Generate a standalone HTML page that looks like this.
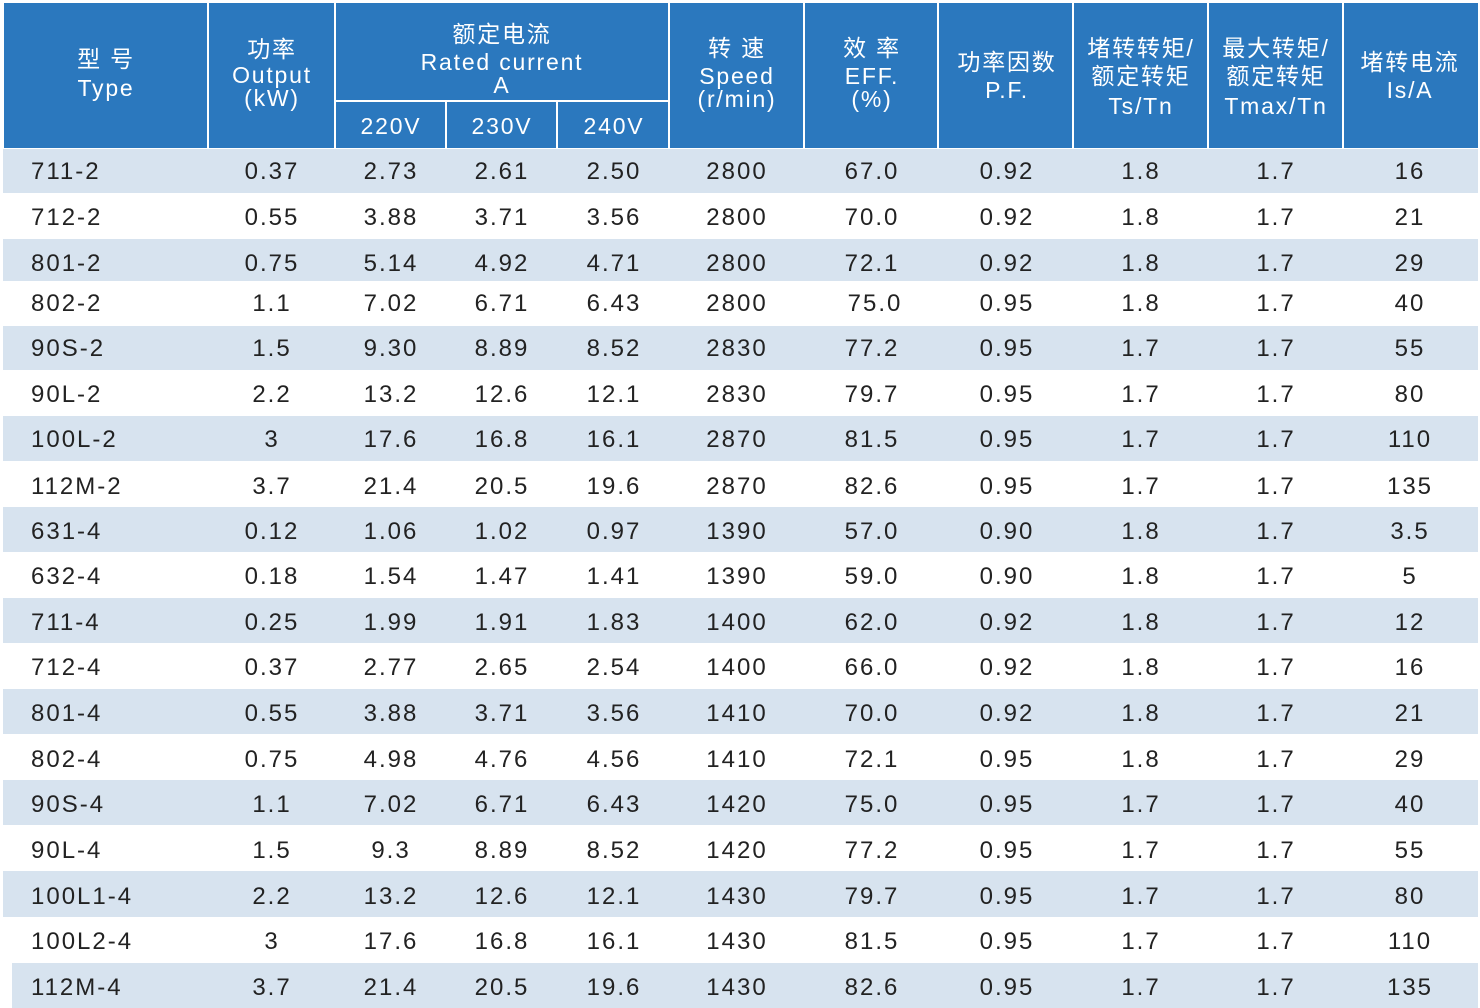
<!DOCTYPE html>
<html><head><meta charset="utf-8"><style>
html,body{margin:0;padding:0;background:#fff;}
svg{display:block}
text{font-family:"Liberation Sans","Noto Sans CJK SC",sans-serif;}
</style></head><body>
<svg width="1480" height="1008" viewBox="0 0 1480 1008" xmlns="http://www.w3.org/2000/svg">
<rect x="0" y="0" width="1480" height="1008" fill="#fff"/>
<rect x="4" y="3" width="1474" height="145" fill="#2b78be"/>
<g stroke="#fff" stroke-width="2">
<line x1="208" y1="3" x2="208" y2="148"/><line x1="335" y1="3" x2="335" y2="148"/>
<line x1="669" y1="3" x2="669" y2="148"/><line x1="804" y1="3" x2="804" y2="148"/>
<line x1="938" y1="3" x2="938" y2="148"/><line x1="1073" y1="3" x2="1073" y2="148"/>
<line x1="1208" y1="3" x2="1208" y2="148"/><line x1="1343" y1="3" x2="1343" y2="148"/>
<line x1="335" y1="101" x2="669" y2="101"/>
<line x1="446" y1="101" x2="446" y2="148"/><line x1="557" y1="101" x2="557" y2="148"/>
</g>
<g fill="#fff" font-size="23" text-anchor="middle" letter-spacing="1.8">
<text x="106" y="67">型 号</text><text x="106" y="96">Type</text>
<text x="272" y="57">功率</text><text x="272" y="83">Output</text><text x="272" y="106">(kW)</text>
<text x="502" y="42">额定电流</text><text x="502" y="70">Rated current</text><text x="502" y="93">A</text>
<text x="391" y="134">220V</text><text x="502" y="134">230V</text><text x="614" y="134">240V</text>
<text x="737" y="56">转 速</text><text x="737" y="84">Speed</text><text x="737" y="107">(r/min)</text>
<text x="872" y="56">效 率</text><text x="872" y="84">EFF.</text><text x="872" y="107">(%)</text>
<text x="1007" y="70">功率因数</text><text x="1007" y="98">P.F.</text>
<text x="1141" y="56">堵转转矩/</text><text x="1141" y="84">额定转矩</text><text x="1141" y="114">Ts/Tn</text>
<text x="1276" y="56">最大转矩/</text><text x="1276" y="84">额定转矩</text><text x="1276" y="114">Tmax/Tn</text>
<text x="1410" y="70">堵转电流</text><text x="1410" y="98">Is/A</text>
</g>
<g fill="#d7e3ef">
<rect x="3" y="149" width="1475" height="44"/>
<rect x="3" y="239" width="1475" height="42"/>
<rect x="3" y="326" width="1475" height="44"/>
<rect x="3" y="416" width="1475" height="45"/>
<rect x="3" y="507" width="1475" height="45"/>
<rect x="3" y="598" width="1475" height="45"/>
<rect x="3" y="689" width="1475" height="45"/>
<rect x="3" y="780" width="1475" height="45"/>
<rect x="3" y="871" width="1475" height="46"/>
<rect x="12" y="963" width="1466" height="45"/>
</g>
<g fill="#222" font-size="24" letter-spacing="2">
<text x="31" y="179">711-2</text><text x="31" y="225">712-2</text><text x="31" y="271">801-2</text><text x="31" y="311">802-2</text><text x="31" y="356">90S-2</text><text x="31" y="402">90L-2</text><text x="31" y="447">100L-2</text><text x="31" y="494">112M-2</text><text x="31" y="539">631-4</text><text x="31" y="584">632-4</text><text x="31" y="630">711-4</text><text x="31" y="675">712-4</text><text x="31" y="721">801-4</text><text x="31" y="767">802-4</text><text x="31" y="812">90S-4</text><text x="31" y="858">90L-4</text><text x="31" y="904">100L1-4</text><text x="31" y="949">100L2-4</text><text x="31" y="995">112M-4</text>
</g>
<g fill="#222" font-size="24" letter-spacing="2" text-anchor="middle">
<text y="179"><tspan x="272">0.37</tspan><tspan x="391">2.73</tspan><tspan x="502">2.61</tspan><tspan x="614">2.50</tspan><tspan x="737">2800</tspan><tspan x="872">67.0</tspan><tspan x="1007">0.92</tspan><tspan x="1141">1.8</tspan><tspan x="1276">1.7</tspan><tspan x="1410">16</tspan></text>
<text y="225"><tspan x="272">0.55</tspan><tspan x="391">3.88</tspan><tspan x="502">3.71</tspan><tspan x="614">3.56</tspan><tspan x="737">2800</tspan><tspan x="872">70.0</tspan><tspan x="1007">0.92</tspan><tspan x="1141">1.8</tspan><tspan x="1276">1.7</tspan><tspan x="1410">21</tspan></text>
<text y="271"><tspan x="272">0.75</tspan><tspan x="391">5.14</tspan><tspan x="502">4.92</tspan><tspan x="614">4.71</tspan><tspan x="737">2800</tspan><tspan x="872">72.1</tspan><tspan x="1007">0.92</tspan><tspan x="1141">1.8</tspan><tspan x="1276">1.7</tspan><tspan x="1410">29</tspan></text>
<text y="311"><tspan x="272">1.1</tspan><tspan x="391">7.02</tspan><tspan x="502">6.71</tspan><tspan x="614">6.43</tspan><tspan x="737">2800</tspan><tspan x="875">75.0</tspan><tspan x="1007">0.95</tspan><tspan x="1141">1.8</tspan><tspan x="1276">1.7</tspan><tspan x="1410">40</tspan></text>
<text y="356"><tspan x="272">1.5</tspan><tspan x="391">9.30</tspan><tspan x="502">8.89</tspan><tspan x="614">8.52</tspan><tspan x="737">2830</tspan><tspan x="872">77.2</tspan><tspan x="1007">0.95</tspan><tspan x="1141">1.7</tspan><tspan x="1276">1.7</tspan><tspan x="1410">55</tspan></text>
<text y="402"><tspan x="272">2.2</tspan><tspan x="391">13.2</tspan><tspan x="502">12.6</tspan><tspan x="614">12.1</tspan><tspan x="737">2830</tspan><tspan x="872">79.7</tspan><tspan x="1007">0.95</tspan><tspan x="1141">1.7</tspan><tspan x="1276">1.7</tspan><tspan x="1410">80</tspan></text>
<text y="447"><tspan x="272">3</tspan><tspan x="391">17.6</tspan><tspan x="502">16.8</tspan><tspan x="614">16.1</tspan><tspan x="737">2870</tspan><tspan x="872">81.5</tspan><tspan x="1007">0.95</tspan><tspan x="1141">1.7</tspan><tspan x="1276">1.7</tspan><tspan x="1410">110</tspan></text>
<text y="494"><tspan x="272">3.7</tspan><tspan x="391">21.4</tspan><tspan x="502">20.5</tspan><tspan x="614">19.6</tspan><tspan x="737">2870</tspan><tspan x="872">82.6</tspan><tspan x="1007">0.95</tspan><tspan x="1141">1.7</tspan><tspan x="1276">1.7</tspan><tspan x="1410">135</tspan></text>
<text y="539"><tspan x="272">0.12</tspan><tspan x="391">1.06</tspan><tspan x="502">1.02</tspan><tspan x="614">0.97</tspan><tspan x="737">1390</tspan><tspan x="872">57.0</tspan><tspan x="1007">0.90</tspan><tspan x="1141">1.8</tspan><tspan x="1276">1.7</tspan><tspan x="1410">3.5</tspan></text>
<text y="584"><tspan x="272">0.18</tspan><tspan x="391">1.54</tspan><tspan x="502">1.47</tspan><tspan x="614">1.41</tspan><tspan x="737">1390</tspan><tspan x="872">59.0</tspan><tspan x="1007">0.90</tspan><tspan x="1141">1.8</tspan><tspan x="1276">1.7</tspan><tspan x="1410">5</tspan></text>
<text y="630"><tspan x="272">0.25</tspan><tspan x="391">1.99</tspan><tspan x="502">1.91</tspan><tspan x="614">1.83</tspan><tspan x="737">1400</tspan><tspan x="872">62.0</tspan><tspan x="1007">0.92</tspan><tspan x="1141">1.8</tspan><tspan x="1276">1.7</tspan><tspan x="1410">12</tspan></text>
<text y="675"><tspan x="272">0.37</tspan><tspan x="391">2.77</tspan><tspan x="502">2.65</tspan><tspan x="614">2.54</tspan><tspan x="737">1400</tspan><tspan x="872">66.0</tspan><tspan x="1007">0.92</tspan><tspan x="1141">1.8</tspan><tspan x="1276">1.7</tspan><tspan x="1410">16</tspan></text>
<text y="721"><tspan x="272">0.55</tspan><tspan x="391">3.88</tspan><tspan x="502">3.71</tspan><tspan x="614">3.56</tspan><tspan x="737">1410</tspan><tspan x="872">70.0</tspan><tspan x="1007">0.92</tspan><tspan x="1141">1.8</tspan><tspan x="1276">1.7</tspan><tspan x="1410">21</tspan></text>
<text y="767"><tspan x="272">0.75</tspan><tspan x="391">4.98</tspan><tspan x="502">4.76</tspan><tspan x="614">4.56</tspan><tspan x="737">1410</tspan><tspan x="872">72.1</tspan><tspan x="1007">0.95</tspan><tspan x="1141">1.8</tspan><tspan x="1276">1.7</tspan><tspan x="1410">29</tspan></text>
<text y="812"><tspan x="272">1.1</tspan><tspan x="391">7.02</tspan><tspan x="502">6.71</tspan><tspan x="614">6.43</tspan><tspan x="737">1420</tspan><tspan x="872">75.0</tspan><tspan x="1007">0.95</tspan><tspan x="1141">1.7</tspan><tspan x="1276">1.7</tspan><tspan x="1410">40</tspan></text>
<text y="858"><tspan x="272">1.5</tspan><tspan x="391">9.3</tspan><tspan x="502">8.89</tspan><tspan x="614">8.52</tspan><tspan x="737">1420</tspan><tspan x="872">77.2</tspan><tspan x="1007">0.95</tspan><tspan x="1141">1.7</tspan><tspan x="1276">1.7</tspan><tspan x="1410">55</tspan></text>
<text y="904"><tspan x="272">2.2</tspan><tspan x="391">13.2</tspan><tspan x="502">12.6</tspan><tspan x="614">12.1</tspan><tspan x="737">1430</tspan><tspan x="872">79.7</tspan><tspan x="1007">0.95</tspan><tspan x="1141">1.7</tspan><tspan x="1276">1.7</tspan><tspan x="1410">80</tspan></text>
<text y="949"><tspan x="272">3</tspan><tspan x="391">17.6</tspan><tspan x="502">16.8</tspan><tspan x="614">16.1</tspan><tspan x="737">1430</tspan><tspan x="872">81.5</tspan><tspan x="1007">0.95</tspan><tspan x="1141">1.7</tspan><tspan x="1276">1.7</tspan><tspan x="1410">110</tspan></text>
<text y="995"><tspan x="272">3.7</tspan><tspan x="391">21.4</tspan><tspan x="502">20.5</tspan><tspan x="614">19.6</tspan><tspan x="737">1430</tspan><tspan x="872">82.6</tspan><tspan x="1007">0.95</tspan><tspan x="1141">1.7</tspan><tspan x="1276">1.7</tspan><tspan x="1410">135</tspan></text>
</g>
</svg>
</body></html>
